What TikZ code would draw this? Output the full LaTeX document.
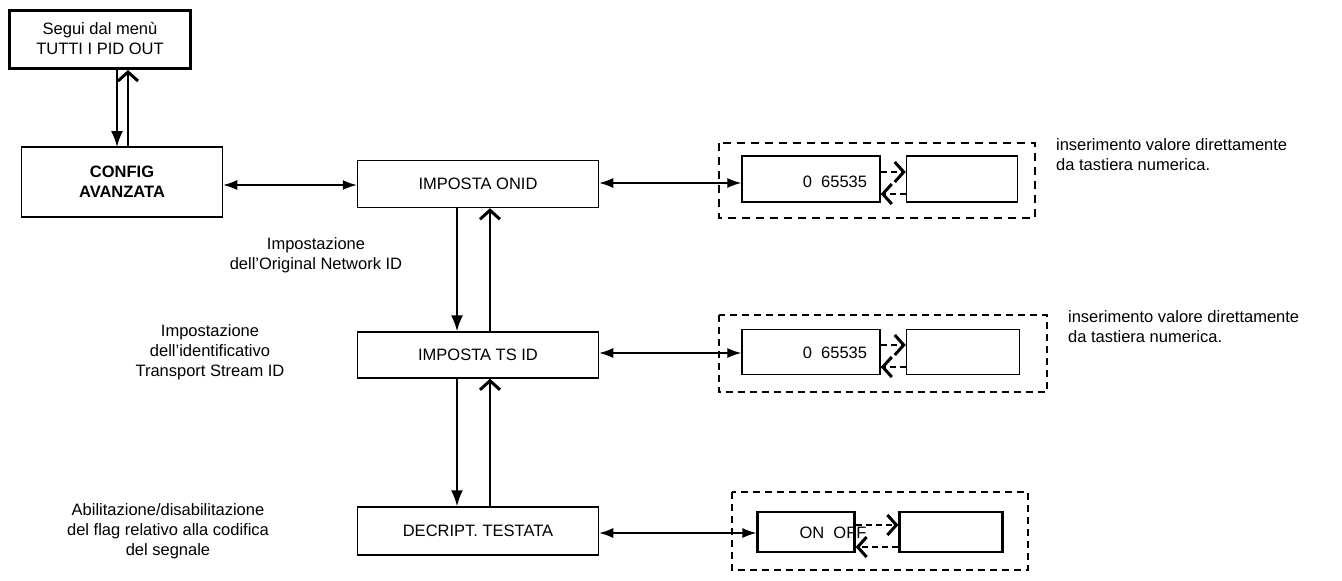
\documentclass[tikz,border=0pt]{standalone}
\usepackage{fontspec}
\setmainfont{Liberation Sans}
\usetikzlibrary{arrows.meta}
\begin{document}
\begin{tikzpicture}[x=1pt,y=-1pt,
    font=\fontsize{16.5}{20}\selectfont,
    line width=1.5pt,
    Box/.style = {draw, line width=1.5pt, inner sep = 0pt},
    Dash/.style = {draw, line width=1.3pt, dash pattern=on 7pt off 5pt},
    Lbl/.style = {align=center},
    Note/.style = {align=left, anchor=north west},
    Arr/.style = {-{Latex[length=16pt,width=12pt]}, line width=1.8pt},
    Open/.style = {-{Straight Barb[length=9pt,width=20pt,line width=3pt]}, line width=1.8pt},
    Both/.style = {{Latex[length=14pt,width=10pt]}-{Latex[length=14pt,width=10pt]}, line width=1.3pt}]
  \useasboundingbox (0,0) rectangle (1342,581);
  % left column
  \node[Box, line width=3pt, minimum width=181pt, minimum height=58pt, Lbl] (menu) at (100,39) {Segui dal men\`u\\TUTTI I PID OUT};
  \node[Box, minimum width=201pt, minimum height=70pt, Lbl, font=\fontsize{16.5}{20}\selectfont\bfseries] (conf) at (122,182) {CONFIG\\AVANZATA};
  \draw[Arr] (117,68) coordinate (m1) -- (117,147) coordinate (c1);
  \draw[Open] (128,147) coordinate (c2) -- (128,70) coordinate (m2);
  % middle column
  \node[Box, minimum width=241pt, minimum height=47pt] (onid) at (478,184) {IMPOSTA ONID};
  \node[Box, minimum width=241pt, minimum height=46pt] (tsid) at (478,355) {IMPOSTA TS ID};
  \node[Box, minimum width=241pt, minimum height=48pt] (decr) at (478,531) {DECRIPT. TESTATA};
  \draw[Both] (conf.east |- 0,185) -- (onid.west |- 0,185);
  \foreach \a/\b in {onid/tsid, tsid/decr}{
    \draw[Arr] ([xshift=-21pt]\a.south) -- ([xshift=-21pt]\b.north);
    \draw[Open] ([xshift=12pt]\b.north) -- ([xshift=12pt]\a.south);
  }
  \node[Lbl] (lonid) at (316,255) {Impostazione\\dell'Original Network ID};
  \node[Lbl] (ltsid) at (210,352) {Impostazione\\dell'identificativo\\Transport Stream ID};
  \node[Lbl] (ldecr) at (168,531) {Abilitazione/disabilitazione\\del flag relativo alla codifica\\del segnale};
  % right column
  \draw[Dash, line width=2.5pt, dash pattern=on 8pt off 6pt] (719,143) rectangle (1035,218);
  \draw[Dash] (719,315) rectangle (1047,392);
  \draw[Dash] (732,492) rectangle (1028,570);
  \node[Box, minimum width=138pt, minimum height=46pt] (va) at (811,179) {};
  \node[Box, minimum width=111pt, minimum height=46pt] (vb) at (962,179) {};
  \node[Box, minimum width=138pt, minimum height=45pt] (ta) at (811,352) {};
  \node[Box, minimum width=113pt, minimum height=45pt] (tb) at (963,352) {};
  \node[Box, line width=2.2pt, minimum width=97pt, minimum height=40pt] (da) at (806,532) {};
  \node[Box, line width=2.2pt, minimum width=103pt, minimum height=40pt] (db) at (951,532) {};
  \node (vt) at (835,182) {0\ \ 65535};
  \node (tt) at (835,353) {0\ \ 65535};
  \node (dt) at (833,533) {ON\ \ OFF};
  \foreach \x/\y/\a/\b in {183/onid/va, 353/tsid/ta, 533/decr/da}{
    \draw[Both] (\y.east |- 0,\x) -- (\a.west |- 0,\x);
  }
  \foreach \a/\b in {va/vb, ta/tb, da/db}{
    \draw[Open, dash pattern=on 6pt off 4pt] ([yshift=7pt]\a.east) -- ([yshift=7pt]\b.west);
    \draw[Open, dash pattern=on 6pt off 4pt, line width=1.3pt] ([yshift=-15pt]\b.west) -- ([yshift=-15pt]\a.east);
  }
  \node[Note] (nv) at (1052,134) {inserimento valore direttamente\\da tastiera numerica.};
  \node[Note] (nt) at (1064,306) {inserimento valore direttamente\\da tastiera numerica.};
\end{tikzpicture}
\end{document}
